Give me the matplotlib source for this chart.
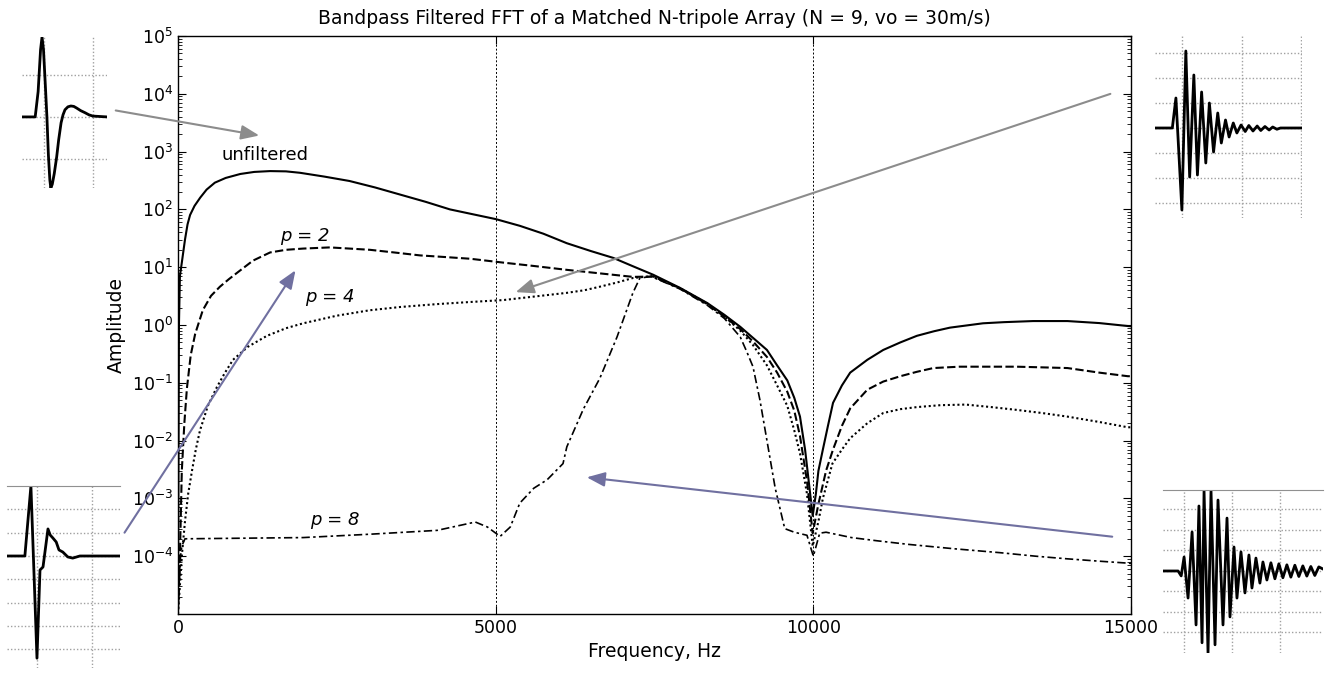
import matplotlib.pyplot as plt
from matplotlib.patches import FancyArrowPatch
from matplotlib.ticker import LogLocator, NullFormatter

plt.rcParams['font.family'] = ['DejaVu Sans']
plt.rcParams['mathtext.default'] = 'regular'

W, H = 1331, 677  # taille de la figure en pixels

# --- spectres (frequence en Hz, amplitude) ---
f_unf = [0, 15, 30, 60, 110, 150, 190, 260, 350, 450, 580, 750, 980, 1200, 1450, 1700,
         1920, 2300, 2700, 3100, 3500, 3900, 4280, 4650, 5000, 5380, 5750, 6120, 6500,
         6850, 7150, 7480, 7900, 8330, 8600, 8850, 9050, 9270, 9430, 9590, 9700, 9790,
         9870, 9940, 9990, 10040, 10080, 10150, 10230, 10310, 10450, 10580, 10850, 11100,
         11370, 11630, 11900, 12150, 12670, 13000, 13460, 14000, 14500, 14950, 15000]
a_unf = [1.5e-5, 1.0, 7, 12, 30, 55, 80, 115, 160, 220, 290, 350, 410, 445, 460, 455,
         430, 370, 310, 240, 180, 135, 100, 82, 68, 52, 38, 26, 19,
         14.5, 10.5, 7.4, 4.4, 2.4, 1.5, 0.93, 0.6, 0.37, 0.2, 0.11, 0.055, 0.026,
         0.007, 0.0015, 5e-4, 0.0012, 0.003, 0.007, 0.018, 0.045, 0.09, 0.15, 0.25, 0.37,
         0.5, 0.65, 0.78, 0.9, 1.07, 1.12, 1.17, 1.17, 1.08, 0.96, 0.95]

f_p2 = [0, 30, 60, 100, 140, 200, 270, 390, 520, 660, 800, 930, 1180, 1450, 1700, 1970,
        2390, 2700, 3020, 3400, 3810, 4200, 4600, 5120, 5600, 6120, 6650, 7160, 7480,
        7900, 8330, 8600, 8850, 9050, 9270, 9430, 9590, 9700, 9790, 9900, 9990, 10080,
        10200, 10310, 10450, 10580, 10850, 11100, 11370, 11630, 11890, 12300, 12670,
        13200, 13600, 14000, 14500, 14950, 15000]
a_p2 = [1.2e-5, 1e-4, 0.003, 0.02, 0.08, 0.3, 0.7, 1.8, 3.2, 4.6, 6.2, 8, 13, 18, 20, 21,
        22, 21, 20, 18, 16, 15, 14, 12, 10.5, 9, 7.8, 6.8, 6.9,
        4.3, 2.3, 1.4, 0.85, 0.52, 0.28, 0.15, 0.07, 0.033, 0.012, 0.002, 2.5e-4, 8e-4,
        0.003, 0.007, 0.018, 0.036, 0.076, 0.105, 0.13, 0.155, 0.18, 0.19, 0.19,
        0.19, 0.185, 0.18, 0.15, 0.13, 0.13]

f_p4 = [0, 63, 110, 160, 220, 280, 346, 470, 614, 740, 866, 1100, 1400, 1700, 1970, 2500,
        3020, 3500, 4080, 4600, 5120, 5600, 6120, 6400, 6640, 6900, 7160, 7450, 7900,
        8330, 8600, 8850, 9050, 9270, 9430, 9590, 9700, 9790, 9900, 9990, 10080, 10150,
        10300, 10450, 10580, 10850, 11100, 11370, 11630, 12000, 12400, 12800, 13200,
        13600, 14000, 14500, 14950, 15000]
a_p4 = [1e-5, 1.1e-4, 4e-4, 0.0012, 0.003, 0.007, 0.015, 0.04, 0.085, 0.15, 0.25, 0.42,
        0.65, 0.88, 1.07, 1.45, 1.8, 2.05, 2.3, 2.5, 2.7, 3.1, 3.6, 4.0, 4.6, 5.4, 6.5,
        7.0, 4.35, 2.35, 1.4, 0.8, 0.45, 0.2, 0.09, 0.04, 0.015, 0.006, 0.0012, 1.5e-4,
        4e-4, 0.001, 0.004, 0.007, 0.011, 0.02, 0.03, 0.035, 0.038, 0.041, 0.042, 0.038,
        0.034, 0.03, 0.026, 0.021, 0.017, 0.017]

f_p8 = [0, 40, 60, 110, 1970, 3020, 4080, 4680, 4870, 5070, 5230, 5380, 5600, 5810, 6060,
        6120, 6380, 6640, 6910, 7160, 7270, 7450, 7900, 8330, 8600, 8850, 8950, 9050,
        9160, 9270, 9400, 9550, 9700, 9900, 10000, 10100, 10200, 10600, 11000, 11500,
        12200, 12940, 13500, 14000, 14500, 14940, 15000]
a_p8 = [1e-5, 1e-4, 1.5e-4, 2.0e-4, 2.1e-4, 2.4e-4, 2.8e-4, 3.9e-4, 3.2e-4, 2.2e-4, 3.2e-4,
        8.3e-4, 0.0015, 0.0021, 0.004, 0.0078, 0.035, 0.12, 0.62, 3.6, 6.5, 6.9, 4.2,
        2.2, 1.3, 0.62, 0.35, 0.19, 0.05, 0.01, 0.0015, 3e-4, 2.6e-4, 2.3e-4, 1e-4,
        2.5e-4, 2.6e-4, 2.1e-4, 1.85e-4, 1.6e-4, 1.35e-4, 1.15e-4, 1.0e-4, 9e-5, 8.2e-5,
        7.6e-5, 7.5e-5]

y_ticks = [1e-4, 1e-3, 1e-2, 1e-1, 1e0, 1e1, 1e2, 1e3, 1e4, 1e5]
y_labels = ['$10^{-4}$', '$10^{-3}$', '$10^{-2}$', '$10^{-1}$', '$10^{0}$',
            '$10^{1}$', '$10^{2}$', '$10^{3}$', '$10^{4}$', '$10^{5}$']
x_ticks = [0, 5000, 10000, 15000]

# --- formes d'onde des vignettes (temps, amplitude) ---
t_w1 = [-0.45, -0.18, -0.12, -0.07, -0.04, -0.01, 0.03, 0.06, 0.09, 0.12, 0.14, 0.17,
        0.21, 0.26, 0.30, 0.35, 0.39, 0.43, 0.49, 0.55, 0.61, 0.67, 0.75, 0.84, 0.92,
        1.0, 1.29]
a_w1 = [0, 0, 0.6, 1.6, 1.9, 1.6, 0.7, 0, -0.9, -1.5, -1.69, -1.6,
        -1.35, -0.95, -0.55, -0.14, 0.05, 0.17, 0.24, 0.26, 0.25, 0.21, 0.15, 0.1, 0.05,
        0.02, 0]

t_w2 = [-0.45, -0.16, -0.10, 0.0, 0.066, 0.13, 0.20, 0.26, 0.33, 0.40, 0.46, 0.53, 0.60,
        0.66, 0.73, 0.79, 0.86, 0.92, 0.99, 1.06, 1.12, 1.19, 1.26, 1.32, 1.39, 1.46,
        1.52, 1.59, 1.65, 2.01]
a_w2 = [0, 0, 1.2, -3.28, 3.08, -1.96, 2.12, -1.88, 1.44, -1.4, 1.0, -0.96, 0.6,
        -0.6, 0.32, -0.36, 0.2, -0.2, 0.12, -0.14, 0.1, -0.12, 0.08, -0.1, 0.06, -0.08,
        0.04, -0.05, 0, 0]

t_w3 = [-0.545, -0.22, -0.11, 0.0, 0.055, 0.11, 0.2, 0.24, 0.29, 0.35, 0.4, 0.47, 0.56,
        0.65, 0.78, 1.51]
a_w3 = [0, 0, 3.0, -4.38, -0.6, -0.47, 1.16, 0.9, 0.77, 0.6, 0.26, 0.17, -0.04,
        -0.09, 0, 0]

t_w4 = [-0.44, -0.125, -0.06, 0, 0.083, 0.167, 0.25, 0.31, 0.375, 0.417, 0.5, 0.5625,
        0.646, 0.708, 0.8125, 0.896, 0.958, 1.042, 1.104, 1.1875, 1.271, 1.354, 1.417,
        1.5, 1.583, 1.646, 1.729, 1.8125, 1.896, 1.979, 2.0625, 2.146, 2.229, 2.3125,
        2.396, 2.479, 2.5625, 2.646, 2.729, 2.8125, 2.896]
a_w4 = [0, 0, -0.24, 0.68, -1.32, 1.9, -2.63, 3.17, -3.5, 3.9, -4.0, 3.9,
        -3.6, 3.46, -2.63, 2.58, -2.24, 1.17, -1.32, 0.93, -1.07, 0.78, -0.83,
        0.63, -0.59, 0.44, -0.44, 0.4, -0.38, 0.35, -0.33, 0.3, -0.3, 0.28,
        -0.27, 0.25, -0.25, 0.22, -0.22, 0.2, 0.1]


def fig_frac(x, y):
    # pixels (origine en haut a gauche) -> fraction de figure
    return (x / W, 1 - y / H)


def rect_px(x0, y0, x1, y1):
    return [x0 / W, 1 - y1 / H, (x1 - x0) / W, (y1 - y0) / H]


fig = plt.figure(figsize=(W / 100, H / 100), dpi=100)

ax = fig.add_axes(rect_px(178, 36, 1131, 614))
ax.semilogy(f_unf, a_unf, color='black', lw=1.5)
ax.semilogy(f_p2, a_p2, color='black', lw=1.5, linestyle=(0, (4, 1.6)))
ax.semilogy(f_p4, a_p4, color='black', lw=1.5, linestyle=(0, (1, 1.3)))
ax.semilogy(f_p8, a_p8, color='black', lw=1.2, linestyle=(0, (5, 2, 1.5, 2)))
ax.set_xlim(0, 15000)
ax.set_ylim(1e-5, 1e5)
ax.set_xticks(x_ticks)
ax.set_xticklabels([str(v) for v in x_ticks])
ax.set_yticks(y_ticks)
ax.set_yticklabels(y_labels)
ax.yaxis.set_minor_locator(LogLocator(base=10, subs=range(2, 10), numticks=20))
ax.yaxis.set_minor_formatter(NullFormatter())
ax.tick_params(which='both', direction='in', top=True, right=True, labelsize=12.5)
ax.tick_params(which='major', length=6)
ax.tick_params(which='minor', length=3)
ax.xaxis.grid(True, color='black', lw=0.7, linestyle=(0, (2, 2)))
for s in ax.spines.values():
    s.set_linewidth(1.0)
ax.set_title('Bandpass Filtered FFT of a Matched N-tripole Array (N = 9, vo = 30m/s)',
             fontsize=13.5, pad=9)
ax.set_xlabel('Frequency, Hz', fontsize=13.5)
ax.set_ylabel('Amplitude', fontsize=13.5)

ax.text(1370, 870, 'unfiltered', fontsize=13, ha='center', va='center')
ax.text(2000, 35, 'p = 2', fontsize=13, style='italic', ha='center', va='center')
ax.text(2390, 3.0, 'p = 4', fontsize=13, style='italic', ha='center', va='center')
ax.text(2470, 4.3e-4, 'p = 8', fontsize=13, style='italic', ha='center', va='center')


def make_inset(box, t, a, xlim, ylim, xt, yt, top_line):
    ins = fig.add_axes(rect_px(*box))
    ins.plot(t, a, color='black', lw=2.0)
    ins.set_xlim(*xlim)
    ins.set_ylim(*ylim)
    ins.set_xticks(xt)
    ins.set_yticks(yt)
    ins.tick_params(length=0, labelbottom=False, labelleft=False)
    ins.grid(True, color='#a0a0a0', lw=1.0, linestyle=(0, (1, 1.5)))
    for name, s in ins.spines.items():
        s.set_visible(name == 'top' and top_line)
    ins.spines['top'].set_color('#909090')
    ins.patch.set_alpha(0)
    return ins


make_inset((22, 37, 107, 188), t_w1, a_w1, (-0.45, 1.29), (-1.69, 1.9),
           [0, 1], [-1, 0, 1], False)
make_inset((1155, 35, 1302, 218), t_w2, a_w2, (-0.45, 2.01), (-3.6, 3.72),
           [0, 1, 2], [-3, -2, -1, 0, 1, 2, 3], False)
make_inset((7, 486, 120, 668), t_w3, a_w3, (-0.545, 1.51), (-4.8, 3.0),
           [0, 1], [-4, -3, -2, -1, 0, 1, 2], True)
make_inset((1163, 490, 1323, 653), t_w4, a_w4, (-0.44, 2.9), (-4.0, 3.95),
           [0, 1, 2], [-3, -2, -1, 0, 1, 2, 3], True)

# fleches d'annotation
arrows = [((113, 110), (262, 136), '#8c8c8c'),
          ((1113, 93), (513, 293), '#8c8c8c'),
          ((123, 535), (297, 268), '#7070a0'),
          ((1115, 537), (584, 477), '#7070a0')]
for start, end, col in arrows:
    arr = FancyArrowPatch(fig_frac(*start), fig_frac(*end), transform=fig.transFigure,
                          arrowstyle='-|>,head_length=1.0,head_width=0.4',
                          mutation_scale=11, color=col, lw=1.5, zorder=10)
    fig.add_artist(arr)

fig.savefig('out.png', dpi=100)
